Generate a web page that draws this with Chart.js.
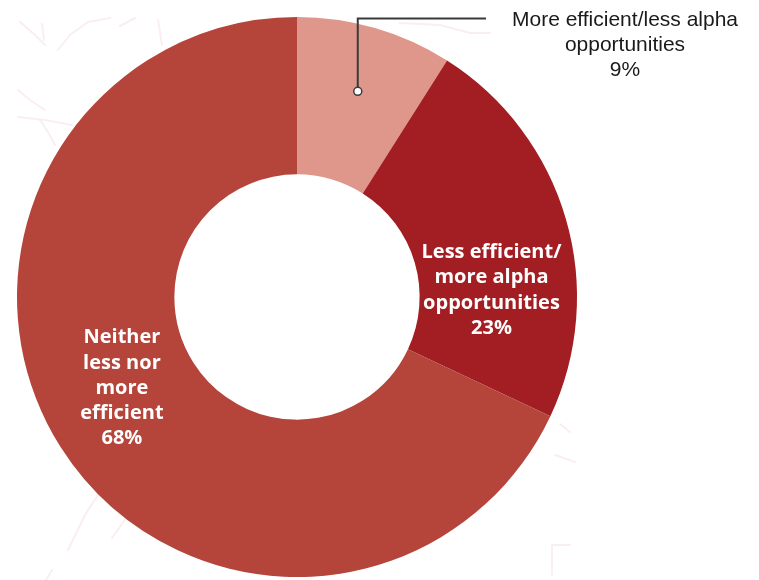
<!DOCTYPE html>
<html>
<head>
<meta charset="utf-8">
<script src="https://cdn.jsdelivr.net/npm/chart.js@4/dist/chart.umd.min.js"></script>
<style>
  html, body { margin: 0; padding: 0; background: #ffffff; }
  #wrap { width: 759px; height: 580px; position: relative; }
</style>
</head>
<body>
<div id="wrap"><canvas id="c" width="759" height="580"></canvas></div>
<script>
// Survey answers: is the market becoming more or less efficient?
const categories = [
  'More efficient/less alpha opportunities',
  'Less efficient/more alpha opportunities',
  'Neither less nor more efficient'
];
const shares = [9, 23, 68];
const sliceColors = ['#e0978b', '#a31e23', '#b5443b'];

// Text lines for each slice label (the share is appended as the last line)
const labelLines = [
  ['More efficient/less alpha', 'opportunities'],
  ['Less efficient/', 'more alpha', 'opportunities'],
  ['Neither', 'less nor', 'more', 'efficient']
];

// Inside labels: placed by angle (deg clockwise from 12 o'clock) and radius fraction
const insideLabelPlacement = {
  1: { angle: 88, r: 0.695 },
  2: { angle: 242.5, r: 0.705 }
};

// Faint decorative strokes behind the ring
const backdropStrokes = {
  id: 'backdropStrokes',
  beforeDraw(chart) {
    const ctx = chart.ctx;
    ctx.save();
    ctx.beginPath();
    ctx.rect(17, 17, 560, 563);
    ctx.clip();
    ctx.strokeStyle = '#faeef2';
    ctx.lineWidth = 2;
    ctx.lineCap = 'round';
    const paths = [
      [[20, 22], [35, 35], [45, 45]],
      [[42, 24], [44, 40]],
      [[58, 50], [70, 35], [88, 22], [110, 18]],
      [[120, 26], [135, 18]],
      [[158, 20], [162, 45]],
      [[18, 90], [30, 100], [45, 110]],
      [[17, 117], [45, 120], [72, 125]],
      [[40, 120], [48, 132], [55, 145]],
      [[98, 495], [85, 515], [68, 550]],
      [[126, 518], [112, 538]],
      [[52, 570], [46, 580]],
      [[560, 424], [570, 432]],
      [[555, 455], [575, 462]],
      [[552, 545], [570, 545]],
      [[552, 545], [552, 575]],
      [[400, 23], [440, 25], [470, 33], [490, 33]]
    ];
    paths.forEach(p => {
      ctx.beginPath();
      ctx.moveTo(p[0][0], p[0][1]);
      for (let i = 1; i < p.length; i++) ctx.lineTo(p[i][0], p[i][1]);
      ctx.stroke();
    });
    ctx.restore();
  }
};

const sliceLabels = {
  id: 'sliceLabels',
  afterDatasetsDraw(chart) {
    const ctx = chart.ctx;
    const meta = chart.getDatasetMeta(0);
    const arc0 = meta.data[0];
    const cx = arc0.x, cy = arc0.y, R = arc0.outerRadius;
    const values = chart.data.datasets[0].data;

    // Bold white labels inside the two larger slices
    ctx.save();
    ctx.fillStyle = '#ffffff';
    ctx.font = 'bold 20px "Open Sans", sans-serif';
    ctx.textAlign = 'center';
    ctx.textBaseline = 'middle';
    const lh = 25.3;
    Object.keys(insideLabelPlacement).forEach(k => {
      const i = +k;
      const p = insideLabelPlacement[i];
      const a = p.angle * Math.PI / 180;
      const x = cx + Math.sin(a) * R * p.r;
      const y = cy - Math.cos(a) * R * p.r;
      const lines = labelLines[i].concat([values[i] + '%']);
      const y0 = y - (lines.length - 1) * lh / 2;
      lines.forEach((t, j) => ctx.fillText(t, x, y0 + j * lh));
    });
    ctx.restore();

    // Callout for the small slice: dot inside the slice, elbow line, text at right
    const mid = (arc0.startAngle + arc0.endAngle) / 2;
    const dr = R * 0.765;
    const dx = cx + Math.cos(mid) * dr + 1;
    const dy = cy + Math.sin(mid) * dr;
    const topY = chart.chartArea.top + 1.5;
    ctx.save();
    ctx.strokeStyle = '#3a3a3a';
    ctx.lineWidth = 2;
    ctx.beginPath();
    ctx.moveTo(dx, dy);
    ctx.lineTo(dx, topY);
    ctx.lineTo(486, topY);
    ctx.stroke();
    ctx.beginPath();
    ctx.arc(dx, dy, 4, 0, Math.PI * 2);
    ctx.fillStyle = '#ffffff';
    ctx.fill();
    ctx.lineWidth = 1.5;
    ctx.stroke();

    ctx.fillStyle = '#1a1a1a';
    ctx.font = '21px "Liberation Sans", Arial, sans-serif';
    ctx.textAlign = 'center';
    ctx.textBaseline = 'middle';
    const tl = labelLines[0].concat([values[0] + '%']);
    tl.forEach((t, j) => ctx.fillText(t, 625, 20 + j * 25));
    ctx.restore();
  }
};

new Chart(document.getElementById('c'), {
  type: 'doughnut',
  data: {
    labels: categories,
    datasets: [{
      data: shares,
      backgroundColor: sliceColors,
      borderWidth: 0,
      hoverOffset: 0
    }]
  },
  options: {
    responsive: false,
    animation: false,
    cutout: '43.8%',
    rotation: 0,
    layout: { padding: { left: 17, top: 17, right: 182, bottom: 3 } },
    plugins: {
      legend: { display: false },
      tooltip: { enabled: false }
    }
  },
  plugins: [backdropStrokes, sliceLabels]
});
</script>
</body>
</html>
